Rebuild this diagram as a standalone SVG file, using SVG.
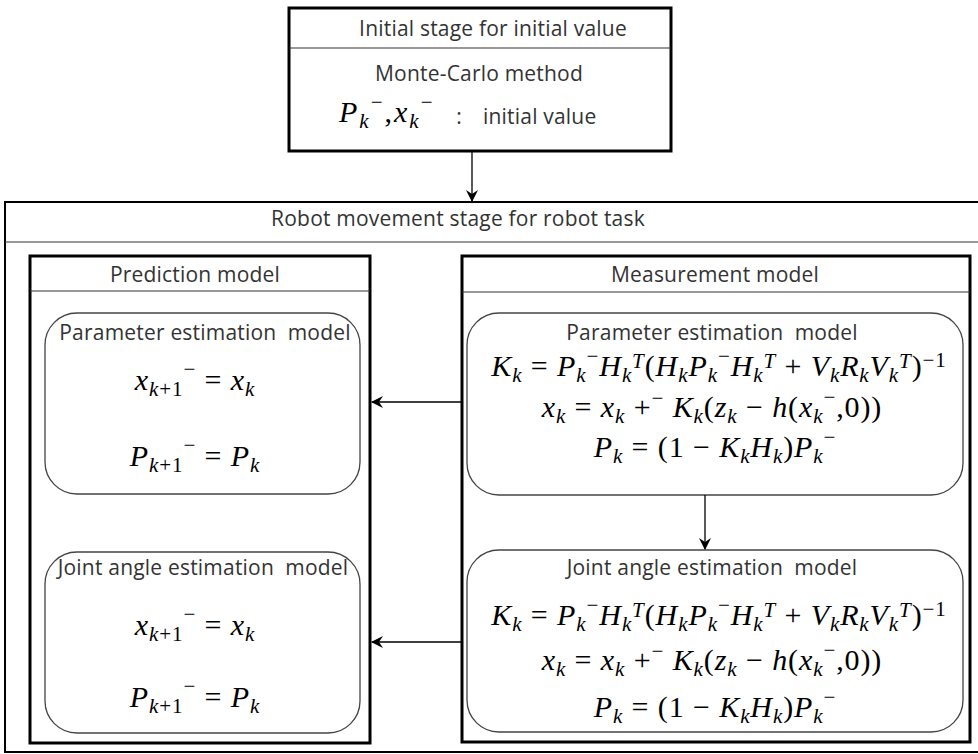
<svg xmlns="http://www.w3.org/2000/svg" width="978" height="754" viewBox="0 0 978 754">
<style>
.lbl{font-family:"Open Sans","Noto Sans","Liberation Sans",sans-serif;font-size:21px;fill:#333;text-anchor:middle;letter-spacing:0.2px}
.eq{font-family:"Liberation Serif","DejaVu Serif",serif;font-size:30px;fill:#000;text-anchor:middle;letter-spacing:0.9px}
.i{font-style:italic}
.s{font-size:21px;font-style:italic}
.u{font-size:21px}
.box{fill:#fff;stroke:#000;stroke-width:3}
.outer{fill:#fff;stroke:#000;stroke-width:2}
.div{stroke:#333;stroke-width:1.2}
.rb{fill:#fff;stroke:#444;stroke-width:1.3}
.con{stroke:#000;stroke-width:1.3;fill:none}
</style>
<defs>
<marker id="ah" viewBox="0 0 12 12" refX="11" refY="6" markerWidth="12" markerHeight="12" markerUnits="userSpaceOnUse" orient="auto">
<path d="M0,0 L12,6 L0,12 L4,6 z" fill="#000"/>
</marker>
</defs>
<rect width="978" height="754" fill="#fff"/>

<g id="initial-stage">
<rect class="box" x="289" y="8" width="382" height="143"/>
<line class="div" x1="289" y1="48" x2="671" y2="48"/>
<text class="lbl" x="493" y="36">Initial stage for initial value</text>
<text class="lbl" x="479" y="81">Monte-Carlo method</text>
<text class="eq" x="339" y="122" style="text-anchor:start;letter-spacing:2px"><tspan class="i">P</tspan><tspan class="s" dy="6">k</tspan><tspan class="u" dy="-19">−</tspan><tspan dy="13">,</tspan><tspan class="i">x</tspan><tspan class="s" dy="6">k</tspan><tspan class="u" dy="-19">−</tspan></text>
<text class="lbl" x="459" y="124">:</text>
<text class="lbl" x="483" y="124" style="text-anchor:start">initial value</text>
</g>

<g id="robot-stage">
<rect class="outer" x="5" y="202" width="980" height="550"/>
<line class="div" x1="5" y1="242" x2="978" y2="242"/>
<text class="lbl" x="458" y="226">Robot movement stage for robot task</text>
</g>

<g id="prediction-model">
<rect class="box" x="30" y="256" width="340" height="487"/>
<line class="div" x1="30" y1="291" x2="370" y2="291"/>
<text class="lbl" x="195" y="282">Prediction model</text>
</g>

<g id="measurement-model">
<rect class="box" x="462" y="256" width="508" height="486"/>
<line class="div" x1="462" y1="292" x2="970" y2="292"/>
<text class="lbl" x="715" y="282">Measurement model</text>
</g>

<g id="pred-param">
<rect class="rb" x="45" y="313" width="315" height="181" rx="32"/>
<text class="lbl" x="205" y="340">Parameter estimation&#160; model</text>
<text class="eq" x="195" y="390"><tspan class="i">x</tspan><tspan class="s" dy="6">k</tspan><tspan class="u">+1</tspan><tspan class="u" dy="-20">−</tspan><tspan dy="14"> = </tspan><tspan class="i">x</tspan><tspan class="s" dy="6">k</tspan></text>
<text class="eq" x="195" y="466"><tspan class="i">P</tspan><tspan class="s" dy="6">k</tspan><tspan class="u">+1</tspan><tspan class="u" dy="-20">−</tspan><tspan dy="14"> = </tspan><tspan class="i">P</tspan><tspan class="s" dy="6">k</tspan></text>
</g>

<g id="pred-joint">
<rect class="rb" x="45" y="552" width="315" height="181" rx="32"/>
<text class="lbl" x="203" y="575">Joint angle estimation&#160; model</text>
<text class="eq" x="195" y="635"><tspan class="i">x</tspan><tspan class="s" dy="6">k</tspan><tspan class="u">+1</tspan><tspan class="u" dy="-20">−</tspan><tspan dy="14"> = </tspan><tspan class="i">x</tspan><tspan class="s" dy="6">k</tspan></text>
<text class="eq" x="195" y="707"><tspan class="i">P</tspan><tspan class="s" dy="6">k</tspan><tspan class="u">+1</tspan><tspan class="u" dy="-20">−</tspan><tspan dy="14"> = </tspan><tspan class="i">P</tspan><tspan class="s" dy="6">k</tspan></text>
</g>

<g id="meas-param">
<rect class="rb" x="467" y="313" width="496" height="182" rx="32"/>
<text class="lbl" x="712" y="340">Parameter estimation&#160; model</text>
<text class="eq" x="719" y="376"><tspan class="i">K</tspan><tspan class="s" dy="6">k</tspan><tspan dy="-6"> = </tspan><tspan class="i">P</tspan><tspan class="s" dy="6">k</tspan><tspan class="u" dy="-19">−</tspan><tspan class="i" dy="13">H</tspan><tspan class="s" dy="6">k</tspan><tspan class="s" dy="-14">T</tspan><tspan dy="8">(</tspan><tspan class="i">H</tspan><tspan class="s" dy="6">k</tspan><tspan class="i" dy="-6">P</tspan><tspan class="s" dy="6">k</tspan><tspan class="u" dy="-19">−</tspan><tspan class="i" dy="13">H</tspan><tspan class="s" dy="6">k</tspan><tspan class="s" dy="-14">T</tspan><tspan dy="8"> + </tspan><tspan class="i">V</tspan><tspan class="s" dy="6">k</tspan><tspan class="i" dy="-6">R</tspan><tspan class="s" dy="6">k</tspan><tspan class="i" dy="-6">V</tspan><tspan class="s" dy="6">k</tspan><tspan class="s" dy="-14">T</tspan><tspan dy="8">)</tspan><tspan class="u" dy="-9">−1</tspan></text>
<text class="eq" x="712" y="417"><tspan class="i">x</tspan><tspan class="s" dy="6">k</tspan><tspan dy="-6"> = </tspan><tspan class="i">x</tspan><tspan class="s" dy="6">k</tspan><tspan dy="-6"> +</tspan><tspan class="u" dy="-12">−</tspan><tspan class="i" dy="12"> K</tspan><tspan class="s" dy="6">k</tspan><tspan dy="-6">(</tspan><tspan class="i">z</tspan><tspan class="s" dy="6">k</tspan><tspan dy="-6"> − </tspan><tspan class="i">h</tspan><tspan>(</tspan><tspan class="i">x</tspan><tspan class="s" dy="6">k</tspan><tspan class="u" dy="-19">−</tspan><tspan dy="13">,0))</tspan></text>
<text class="eq" x="715" y="457"><tspan class="i">P</tspan><tspan class="s" dy="6">k</tspan><tspan dy="-6"> = (1 − </tspan><tspan class="i">K</tspan><tspan class="s" dy="6">k</tspan><tspan class="i" dy="-6">H</tspan><tspan class="s" dy="6">k</tspan><tspan dy="-6">)</tspan><tspan class="i">P</tspan><tspan class="s" dy="6">k</tspan><tspan class="u" dy="-19">−</tspan></text>
</g>

<g id="meas-joint">
<rect class="rb" x="467" y="550" width="496" height="182" rx="32"/>
<text class="lbl" x="712" y="575">Joint angle estimation&#160; model</text>
<text class="eq" x="719" y="625"><tspan class="i">K</tspan><tspan class="s" dy="6">k</tspan><tspan dy="-6"> = </tspan><tspan class="i">P</tspan><tspan class="s" dy="6">k</tspan><tspan class="u" dy="-19">−</tspan><tspan class="i" dy="13">H</tspan><tspan class="s" dy="6">k</tspan><tspan class="s" dy="-14">T</tspan><tspan dy="8">(</tspan><tspan class="i">H</tspan><tspan class="s" dy="6">k</tspan><tspan class="i" dy="-6">P</tspan><tspan class="s" dy="6">k</tspan><tspan class="u" dy="-19">−</tspan><tspan class="i" dy="13">H</tspan><tspan class="s" dy="6">k</tspan><tspan class="s" dy="-14">T</tspan><tspan dy="8"> + </tspan><tspan class="i">V</tspan><tspan class="s" dy="6">k</tspan><tspan class="i" dy="-6">R</tspan><tspan class="s" dy="6">k</tspan><tspan class="i" dy="-6">V</tspan><tspan class="s" dy="6">k</tspan><tspan class="s" dy="-14">T</tspan><tspan dy="8">)</tspan><tspan class="u" dy="-9">−1</tspan></text>
<text class="eq" x="712" y="670"><tspan class="i">x</tspan><tspan class="s" dy="6">k</tspan><tspan dy="-6"> = </tspan><tspan class="i">x</tspan><tspan class="s" dy="6">k</tspan><tspan dy="-6"> +</tspan><tspan class="u" dy="-12">−</tspan><tspan class="i" dy="12"> K</tspan><tspan class="s" dy="6">k</tspan><tspan dy="-6">(</tspan><tspan class="i">z</tspan><tspan class="s" dy="6">k</tspan><tspan dy="-6"> − </tspan><tspan class="i">h</tspan><tspan>(</tspan><tspan class="i">x</tspan><tspan class="s" dy="6">k</tspan><tspan class="u" dy="-19">−</tspan><tspan dy="13">,0))</tspan></text>
<text class="eq" x="715" y="717"><tspan class="i">P</tspan><tspan class="s" dy="6">k</tspan><tspan dy="-6"> = (1 − </tspan><tspan class="i">K</tspan><tspan class="s" dy="6">k</tspan><tspan class="i" dy="-6">H</tspan><tspan class="s" dy="6">k</tspan><tspan dy="-6">)</tspan><tspan class="i">P</tspan><tspan class="s" dy="6">k</tspan><tspan class="u" dy="-19">−</tspan></text>
</g>

<g id="connectors">
<line class="con" x1="472" y1="151" x2="472" y2="201" marker-end="url(#ah)"/>
<line class="con" x1="462" y1="402" x2="372" y2="402" marker-end="url(#ah)"/>
<line class="con" x1="462" y1="642" x2="372" y2="642" marker-end="url(#ah)"/>
<line class="con" x1="705" y1="495" x2="705" y2="549" marker-end="url(#ah)"/>
</g>
</svg>
